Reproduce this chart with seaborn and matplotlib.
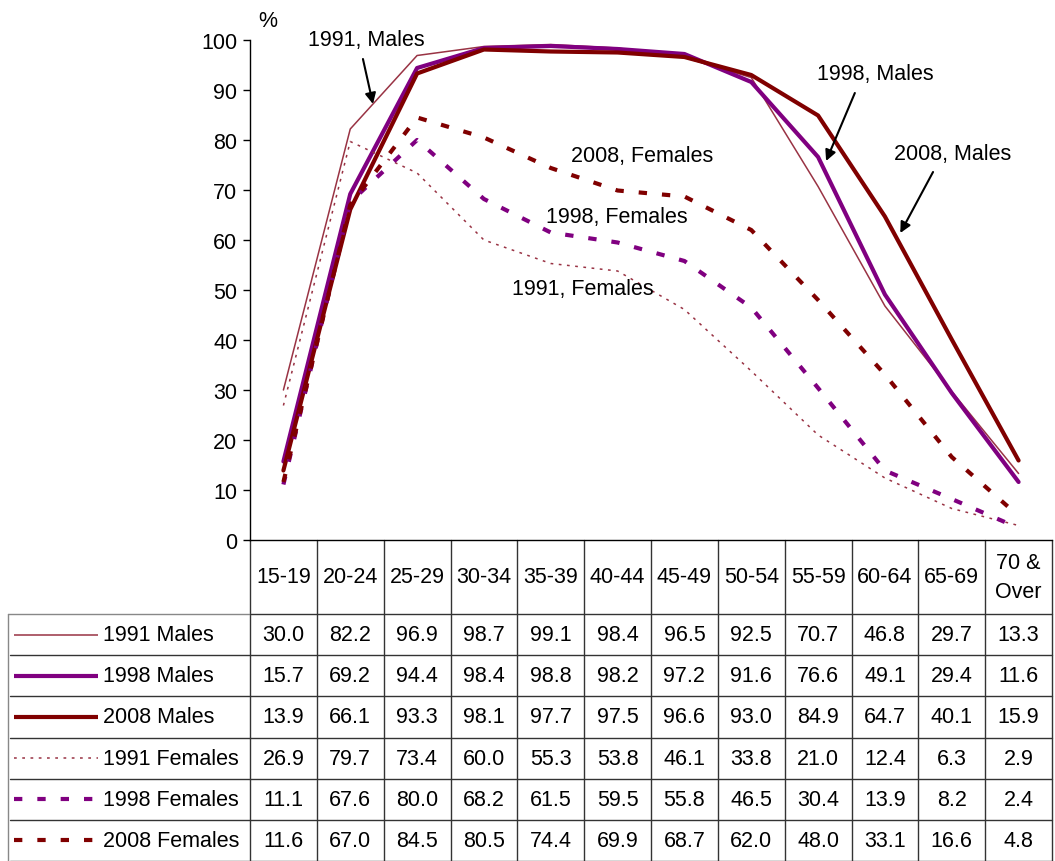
import matplotlib
matplotlib.use("Agg")
import matplotlib.pyplot as plt
import seaborn as sns
import pandas as pd
import numpy as np

age_groups = ["15-19", "20-24", "25-29", "30-34", "35-39", "40-44",
              "45-49", "50-54", "55-59", "60-64", "65-69", "70 &\nOver"]
series_names = ["1991 Males", "1998 Males", "2008 Males",
                "1991 Females", "1998 Females", "2008 Females"]
males_1991 = [30.0, 82.2, 96.9, 98.7, 99.1, 98.4, 96.5, 92.5, 70.7, 46.8, 29.7, 13.3]
males_1998 = [15.7, 69.2, 94.4, 98.4, 98.8, 98.2, 97.2, 91.6, 76.6, 49.1, 29.4, 11.6]
males_2008 = [13.9, 66.1, 93.3, 98.1, 97.7, 97.5, 96.6, 93.0, 84.9, 64.7, 40.1, 15.9]
females_1991 = [26.9, 79.7, 73.4, 60.0, 55.3, 53.8, 46.1, 33.8, 21.0, 12.4, 6.3, 2.9]
females_1998 = [11.1, 67.6, 80.0, 68.2, 61.5, 59.5, 55.8, 46.5, 30.4, 13.9, 8.2, 2.4]
females_2008 = [11.6, 67.0, 84.5, 80.5, 74.4, 69.9, 68.7, 62.0, 48.0, 33.1, 16.6, 4.8]
all_values = [males_1991, males_1998, males_2008,
              females_1991, females_1998, females_2008]

# --- styles ---
palette = {"1991 Males": "#993344", "1998 Males": "#800080", "2008 Males": "#800000",
           "1991 Females": "#993344", "1998 Females": "#800080", "2008 Females": "#800000"}
sizes = {"1991 Males": 1.1, "1998 Males": 3.0, "2008 Males": 3.0,
         "1991 Females": 1.1, "1998 Females": 3.0, "2008 Females": 3.0}
dashes = {"1991 Males": "", "1998 Males": "", "2008 Males": "",
          "1991 Females": (1.8, 3.6), "1998 Females": (2.0, 3.6), "2008 Females": (2.0, 3.6)}

rows = []
for name, vals in zip(series_names, all_values):
    for i, v in enumerate(vals):
        rows.append({"series": name, "pos": i, "value": v})
df = pd.DataFrame(rows)

sns.set_style("white")
plt.rcParams["font.family"] = ["Liberation Sans", "DejaVu Sans"]
plt.rcParams["text.color"] = "black"
plt.rcParams["ytick.color"] = "black"
plt.rcParams["xtick.color"] = "black"
FS = 15.5

W, H = 1055, 862
fig = plt.figure(figsize=(W / 100, H / 100), dpi=100)

# table layer in pixel coordinates
tab = fig.add_axes([0, 0, 1, 1])
tab.set_xlim(0, W)
tab.set_ylim(H, 0)
tab.axis("off")

x0, x1 = 250, 1052
col_w = (x1 - x0) / len(age_groups)
head_top, head_bot = 541, 615
row_h = (H - head_bot) / len(series_names)

# main chart axes
ax = fig.add_axes([x0 / W, (H - head_top) / H, (x1 - x0) / W, (head_top - 41) / H])
sns.lineplot(data=df, x="pos", y="value", hue="series", size="series", style="series",
             palette=palette, sizes=sizes, dashes=dashes, hue_order=series_names,
             sort=False, legend=False, ax=ax)
ax.set_xlim(-0.5, len(age_groups) - 0.5)
ax.set_ylim(0, 100)
ax.set_yticks(np.arange(0, 101, 10))
ax.tick_params(axis="y", labelsize=FS, length=5, width=1, direction="out", left=True,
               pad=4, colors="black")
ax.set_xticks([])
ax.set_xlabel("")
ax.set_ylabel("")
ax.patch.set_alpha(0)
for s in ["top", "right"]:
    ax.spines[s].set_visible(False)
for s in ["left", "bottom"]:
    ax.spines[s].set_color("black")
    ax.spines[s].set_linewidth(1)
ax.text(-0.23, 103.8, "%", fontsize=FS, ha="center", va="center", clip_on=False)

# annotations
arrow = dict(arrowstyle="-|>", color="black", lw=1.5, mutation_scale=16,
             shrinkA=0, shrinkB=0)
ax.text(1.24, 100, "1991, Males", fontsize=FS, ha="center", va="center", clip_on=False)
ax.annotate("", xy=(1.34, 87.2), xytext=(1.19, 96.2), arrowprops=arrow)
ax.text(8.86, 93.2, "1998, Males", fontsize=FS, ha="center", va="center")
ax.annotate("", xy=(8.12, 75.8), xytext=(8.55, 89.4), arrowprops=arrow)
ax.text(10.01, 77.2, "2008, Males", fontsize=FS, ha="center", va="center")
ax.annotate("", xy=(9.23, 61.4), xytext=(9.72, 73.6), arrowprops=arrow)
ax.text(5.37, 76.8, "2008, Females", fontsize=FS, ha="center", va="center")
ax.text(4.99, 64.6, "1998, Females", fontsize=FS, ha="center", va="center")
ax.text(4.48, 50.2, "1991, Females", fontsize=FS, ha="center", va="center")

# table grid
gc = "#333333"
for i in range(len(age_groups) + 1):
    tab.plot([x0 + i * col_w] * 2, [head_top, H], color=gc, lw=1)
tab.plot([8, x0], [head_bot, head_bot], color="#888888", lw=1)
tab.plot([8, 8], [head_bot, H], color="#888888", lw=1)
for r in range(len(series_names)):
    yb = head_bot + (r + 1) * row_h
    tab.plot([10, x1], [yb, yb], color=gc, lw=1)
tab.plot([x0, x1], [head_bot, head_bot], color=gc, lw=1)

for i, lab in enumerate(age_groups):
    tab.text(x0 + (i + 0.5) * col_w, (head_top + head_bot) / 2, lab, fontsize=FS,
             ha="center", va="center", linespacing=1.45)

for r, (name, vals) in enumerate(zip(series_names, all_values)):
    yc = head_bot + (r + 0.5) * row_h
    ls = (0, dashes[name]) if dashes[name] else "-"
    tab.plot([14, 98], [yc, yc], color=palette[name], lw=sizes[name], linestyle=ls,
             solid_capstyle="butt", dash_capstyle="butt")
    tab.text(103, yc, name, fontsize=FS, ha="left", va="center")
    for i, v in enumerate(vals):
        tab.text(x0 + (i + 0.5) * col_w, yc, f"{v:.1f}", fontsize=FS,
                 ha="center", va="center")

fig.savefig("out.png", dpi=100)
plt.close(fig)
